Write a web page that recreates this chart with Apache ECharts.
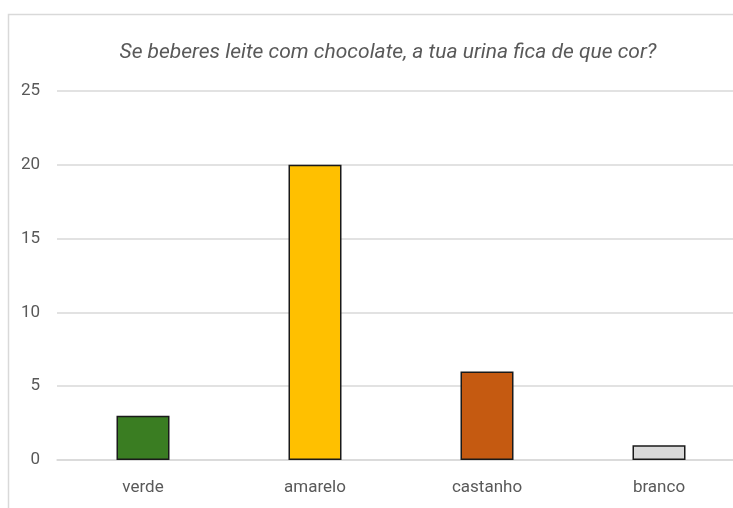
<!DOCTYPE html>
<html>
<head>
<meta charset="utf-8">
<script src="https://cdn.jsdelivr.net/npm/echarts@6/dist/echarts.min.js"></script>
<style>
  html, body { margin: 0; padding: 0; background: #ffffff; }
  #chart { width: 733px; height: 508px; }
</style>
</head>
<body>
<div id="chart"></div>
<script>
// Survey answers: colour of urine after drinking chocolate milk
const categories = ['verde', 'amarelo', 'castanho', 'branco'];
const counts = [3, 20, 6, 1];
const barColors = ['#3a7d22', '#ffc000', '#c55a11', '#d9d9d9'];
const yTicks = [0, 5, 10, 15, 20, 25];

const chart = echarts.init(document.getElementById('chart'), null, { renderer: 'canvas' });

chart.setOption({
  animation: false,
  backgroundColor: '#ffffff',
  title: {
    text: 'Se beberes leite com chocolate, a tua urina fica de que cor?',
    left: 383,
    top: 37,
    textAlign: 'center',
    textStyle: {
      fontFamily: 'Roboto',
      fontStyle: 'italic',
      fontWeight: 'normal',
      fontSize: 21,
      color: '#595959'
    }
  },
  graphic: [{
    type: 'rect',
    shape: { x: 8.5, y: 14.5, width: 900, height: 700 },
    style: { fill: 'none', stroke: '#d9d9d9', lineWidth: 1.5 },
    silent: true,
    z: -1
  }],
  // plot area runs past the right edge of the canvas
  grid: {
    left: 57, width: 688, top: 91, bottom: 48,
    containLabel: false,
    outerBoundsMode: 'none'
  },
  xAxis: {
    type: 'category',
    data: categories,
    axisTick: { show: false },
    axisLine: { show: true, lineStyle: { color: '#d9d9d9', width: 1.5 } },
    axisLabel: {
      fontFamily: 'Roboto',
      fontSize: 17,
      color: '#595959',
      margin: 19
    }
  },
  yAxis: {
    type: 'value',
    min: yTicks[0],
    max: yTicks[yTicks.length - 1],
    interval: 5,
    axisLine: { show: false },
    axisTick: { show: false },
    splitLine: { lineStyle: { color: '#d9d9d9', width: 1.5 } },
    axisLabel: {
      fontFamily: 'Roboto',
      fontSize: 17,
      color: '#595959',
      margin: 17
    }
  },
  series: [{
    type: 'bar',
    barWidth: 53,
    data: counts.map((v, i) => ({
      value: v,
      itemStyle: { color: barColors[i], borderColor: '#1a1a1a', borderWidth: 1.5 }
    }))
  }]
});
</script>
</body>
</html>
